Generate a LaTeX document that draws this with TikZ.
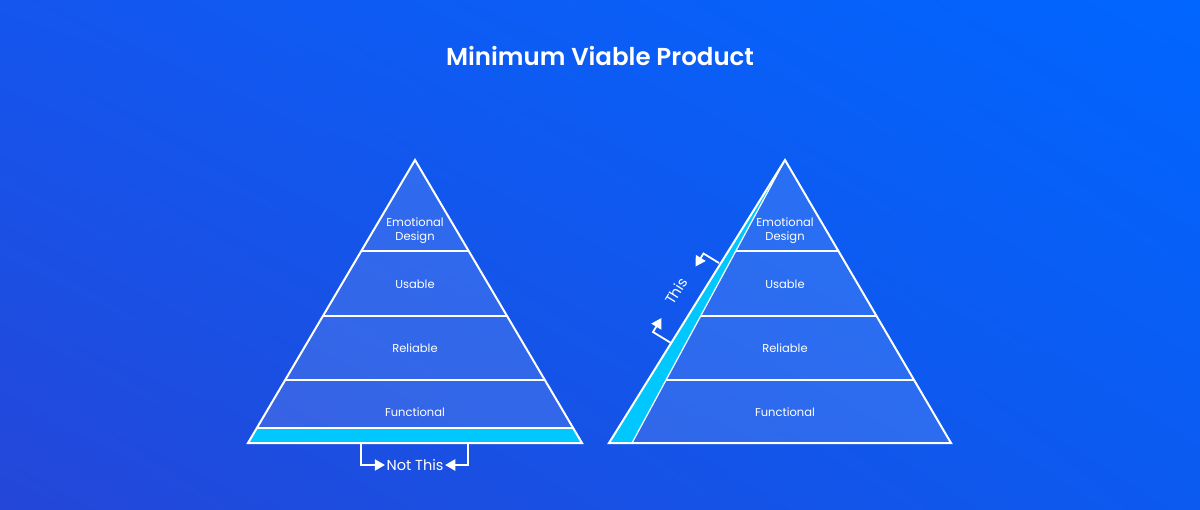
\documentclass[tikz,border=0pt]{standalone}
\usepackage{fontspec}
\setmainfont{Poppins}
\newfontfamily\titlefont{Poppins SemiBold}
\usetikzlibrary{positioning}
\usetikzlibrary{arrows}
\usetikzlibrary{shadings}
\definecolor{bgTL}{HTML}{1456EE}
\definecolor{bgTR}{HTML}{0066FF}
\definecolor{bgBL}{HTML}{2447D8}
\definecolor{bgBR}{HTML}{0C5AF0}
\definecolor{mvpcyan}{HTML}{00C8FF}
\tikzset{
    x=1pt, y=-1pt,
    pyramid/.style={
        fill=white,
        fill opacity=0.12
    },
    outline/.style={
        draw=white,
        line width=2pt,
        line join=miter
    },
    layer/.style={
        draw=white,
        line width=2pt
    },
    pyrlabel/.style={
        text=white,
        align=center,
        font=\fontsize{11.5}{14}\selectfont
    },
    bracket/.style={
        draw=white,
        line width=1.8pt,
        ->,>=triangle 60
    },
    marklabel/.style={
        text=white,
        inner sep=1.5pt,
        font=\fontsize{14.5}{17}\selectfont
    }
}
\begin{document}
\begin{tikzpicture}
                \useasboundingbox (0,0) rectangle (1200,509);
                \shade[upper left=bgTL, upper right=bgTR, lower left=bgBL, lower right=bgBR] (0,0) rectangle (1200,509);

                \node[text=white, font=\fontsize{24.5}{30}\titlefont] (title) at (600,56) {Minimum Viable Product};

                % left pyramid
                \coordinate (lA) at (415,160);
                \coordinate (lBL) at (248,443);
                \coordinate (lBR) at (582,443);
                \fill[pyramid] (lA) -- (lBL) -- (lBR) -- cycle;
                \fill[mvpcyan] (257,428) -- (573,428) -- (lBR) -- (lBL) -- cycle;
                \draw[outline] (lA) -- (lBL) -- (lBR) -- cycle;
                \draw[layer] (361.3,251) -- (468.7,251);
                \draw[layer] (323,316) -- (507,316);
                \draw[layer] (285.2,380) -- (544.8,380);
                \draw[layer] (257,428) -- (573,428);

                \node[pyrlabel] (lEmo) at (415,231) {Emotional\\Design};
                \node[pyrlabel] (lUse) at (415,284) {Usable};
                \node[pyrlabel] (lRel) at (415,348) {Reliable};
                \node[pyrlabel] (lFun) at (415,412) {Functional};

                \node[marklabel] (notthis) at (415,465) {Not This};
                \coordinate (nbL) at (361,443);
                \coordinate (nbR) at (468,443);
                \draw[bracket] (nbL) |- (notthis.west);
                \draw[bracket] (nbR) |- (notthis.east);

                % right pyramid
                \coordinate (rA) at (785,160);
                \coordinate (rBO) at (609,443);
                \coordinate (rBI) at (632,443);
                \coordinate (rBR) at (951,443);
                \fill[pyramid] (rA) -- (rBI) -- (rBR) -- cycle;
                \fill[mvpcyan] (rA) -- (rBO) -- (rBI) -- cycle;
                \draw[outline] (rA) -- (rBO) -- (rBR) -- cycle;
                \draw[layer, line width=1.2pt] (rA) -- (rBI);
                \draw[layer] (735.8,251) -- (838.4,251);
                \draw[layer] (700.7,316) -- (876.5,316);
                \draw[layer] (666.1,380) -- (914.1,380);

                \node[pyrlabel] (rEmo) at (785,231) {Emotional\\Design};
                \node[pyrlabel] (rUse) at (785,284) {Usable};
                \node[pyrlabel] (rRel) at (785,348) {Reliable};
                \node[pyrlabel] (rFun) at (785,412) {Functional};

                \node[marklabel, rotate=58] (this) at (676,291) {This};
                \coordinate (tU) at (719,263);
                \coordinate (tD) at (671,343);
                \draw[bracket] (tU) -- ++(-15.5,-9.5) -- ++(-8,13);
                \draw[bracket] (tD) -- ++(-18,-11) -- ++(8.5,-14);
            \end{tikzpicture}
\end{document}
